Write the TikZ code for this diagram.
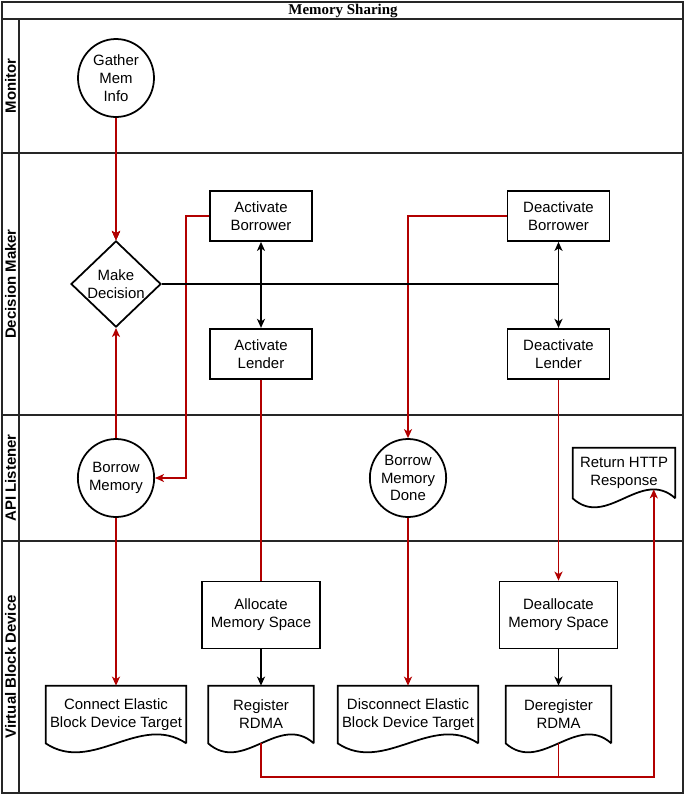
\documentclass[tikz,border=0pt]{standalone}
\usepackage{fontspec}
\setmainfont{Liberation Sans}
\newfontfamily\titlefont{Liberation Serif}
\usepackage{tikz}
\usetikzlibrary{positioning,shapes.geometric,calc,arrows.meta}
\definecolor{myred}{RGB}{178,0,0}
\newcommand{\docoutline}[1]{%
  \draw[docline] (#1.south east) -- (#1.north east) -- (#1.north west) -- (#1.south west)
    .. controls ($(#1.south west)!0.333!(#1.south east)+(0,-0.62)$) and ($(#1.south west)!0.667!(#1.south east)+(0,0.62)$) .. (#1.south east);}

\begin{document}
\begin{tikzpicture}[
          font=\fontsize{8.5}{10.2}\selectfont,
          every node/.style={align=center},
          procnode/.style={draw,line width=1pt,minimum width=2.04cm,minimum height=1cm,inner sep=1pt},
          eventnode/.style={draw,ellipse,line width=1pt,minimum width=1.52cm,minimum height=1.56cm,inner sep=0pt},
          decnode/.style={draw,diamond,line width=1pt,minimum width=1.8cm,minimum height=1.7cm,inner sep=0pt},
          docnode/.style={minimum width=2.1cm,minimum height=1.14cm,inner sep=0pt},
          docline/.style={line width=1pt},
          lanelabel/.style={rotate=90,font=\bfseries\fontsize{8.5}{10.2}\selectfont},
          laneline/.style={line width=1.3pt,black!85},
          flow/.style={myred,line width=1pt},
          ctrl/.style={black,line width=1pt},
          >={Stealth[length=1.8mm,width=1.6mm,inset=0.5mm]}
          ]
          \useasboundingbox (0,0) rectangle (13.7,-15.9);
          % the pool and its lanes
          \draw[laneline] (0.04,-0.04) rectangle (13.66,-15.86);
          \draw[laneline] (0.04,-0.38) -- (13.66,-0.38);
          \draw[laneline] (0.38,-0.38) -- (0.38,-15.86);
          \foreach \y in {-3.06,-8.30,-10.82}
            \draw[laneline] (0.04,\y) -- (13.66,\y);
          \node[font=\titlefont\bfseries\fontsize{8.5}{10}\selectfont] (title) at (6.86,-0.21) {Memory Sharing};
          \foreach \i/\y/\lname in {1/-1.72/Monitor,2/-5.68/Decision Maker,3/-9.56/API Listener,4/-13.34/Virtual Block Device}
            \node[lanelabel] (lane\i) at (0.21,\y) {\lname};
          % the monitor and the decision maker
          \node[eventnode] (gmi) at (2.32,-1.56) {Gather\\Mem\\Info};
          \node[decnode] (md) at (2.32,-5.68) {Make\\Decision};
          \node[procnode] (ab) at (5.22,-4.32) {Activate\\Borrower};
          \node[procnode,below=1.72cm of ab] (al) {Activate\\Lender};
          \node[procnode] (db) at (11.17,-4.32) {Deactivate\\Borrower};
          \node[procnode,below=1.72cm of db] (dl) {Deactivate\\Lender};
          % the api listener
          \node[eventnode] (bm) at (2.32,-9.56) {Borrow\\Memory};
          \node[eventnode] (bmd) at (8.16,-9.56) {Borrow\\Memory\\Done};
          \node[docnode,minimum width=2.04cm,minimum height=1cm] (rh) at (12.48,-9.46) {Return HTTP\\Response};
          % the virtual block device
          \node[procnode,minimum width=2.36cm,minimum height=1.34cm] (ams) at (5.22,-12.3) {Allocate\\Memory Space};
          \node[procnode,minimum width=2.36cm,minimum height=1.34cm] (dms) at (11.17,-12.3) {Deallocate\\Memory Space};
          \node[docnode,minimum width=2.8cm] (cebdt) at (2.32,-14.29) {Connect Elastic\\Block Device Target};
          \node[docnode] (rr) at (5.22,-14.29) {Register\\RDMA};
          \node[docnode,minimum width=2.8cm] (debdt) at (8.16,-14.29) {Disconnect Elastic\\Block Device Target};
          \node[docnode] (drr) at (11.17,-14.29) {Deregister\\RDMA};
          \foreach \d in {rh,cebdt,rr,debdt,drr}
            \docoutline{\d}
          % the flow between lanes
          \draw[flow,->] (gmi) -- (md);
          \draw[flow,->] (bm) -- (md);
          \draw[flow,->] (ab.west) -- ++(-0.46,0) |- (bm.east);
          \draw[flow,->] (db.west) -| (bmd.north);
          \draw[flow] (al) -- (ams);
          \draw[flow,->] (dl) -- (dms);
          \draw[flow,->] (bm) -- (cebdt);
          \draw[flow,->] (bmd) -- (debdt);
          \coordinate (rhin) at ($(rh.south west)!0.79!(rh.south east)+(0,0.18)$);
          \coordinate (busend) at ($(rhin |- drr.south)+(0,-0.68)$);
          \draw[flow,->] (rr.south) |- (busend) -- (rhin);
          \draw[flow] (drr.south) -- (drr.south |- busend);
          % the decision edges
          \coordinate (mdjoin) at (md.east -| db.south);
          \draw[ctrl,line width=1.5pt] (md.east) -- (mdjoin);
          \draw[ctrl,<->] (ab) -- (al);
          \draw[ctrl,<->] (db) -- (dl);
          \draw[ctrl,->] (ams) -- (rr);
          \draw[ctrl,->] (dms) -- (drr);
        \end{tikzpicture}
\end{document}
